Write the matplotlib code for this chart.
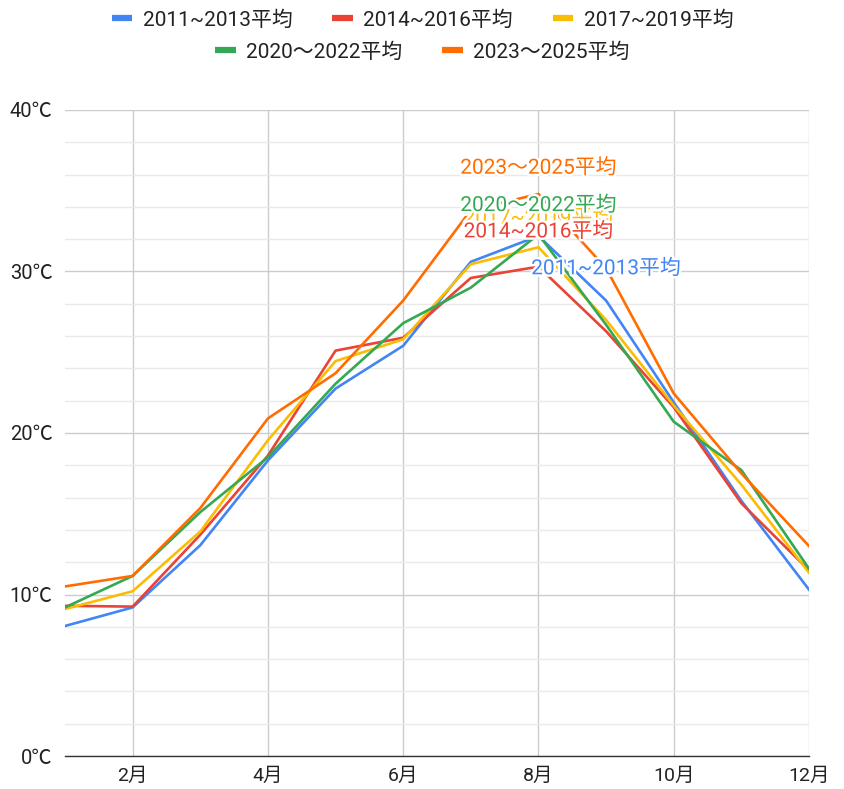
import numpy as np
import matplotlib
matplotlib.use("Agg")
import matplotlib.pyplot as plt
import matplotlib.patheffects as pe
from matplotlib.lines import Line2D

plt.rcParams['font.family'] = ['Roboto', 'Noto Sans CJK JP', 'DejaVu Sans']

# 月ごとの平均気温
months = np.arange(1, 13)
t_2011_2013 = [8.05, 9.2, 13.05, 18.3, 22.75, 25.4, 30.6, 32.2, 28.2, 21.9, 15.8, 10.3]
t_2014_2016 = [9.3, 9.25, 13.7, 18.6, 25.1, 25.9, 29.6, 30.3, 26.3, 21.6, 15.65, 11.5]
t_2017_2019 = [9.1, 10.2, 13.9, 19.55, 24.45, 25.8, 30.45, 31.5, 27.0, 21.7, 16.8, 11.35]
t_2020_2022 = [9.2, 11.15, 15.1, 18.5, 23.05, 26.8, 29.0, 32.3, 26.7, 20.7, 17.7, 11.6]
t_2023_2025 = [10.5, 11.15, 15.35, 20.9, 23.7, 28.2, 33.8, 34.8, 30.2, 22.45, 17.5, 13.0]

names = ["2011~2013平均", "2014~2016平均", "2017~2019平均", "2020～2022平均", "2023～2025平均"]
series = [t_2011_2013, t_2014_2016, t_2017_2019, t_2020_2022, t_2023_2025]
colors = ["#4285F4", "#EA4335", "#FBBC04", "#34A853", "#FF6D01"]

x_ticks = [2, 4, 6, 8, 10, 12]
x_ticklabels = ["2月", "4月", "6月", "8月", "10月", "12月"]
y_ticks = [0, 10, 20, 30, 40]
y_ticklabels = ["0℃", "10℃", "20℃", "30℃", "40℃"]

fig = plt.figure(figsize=(8.45, 7.89), dpi=100)
ax = fig.add_axes([65 / 845, 33 / 789, (809 - 65) / 845, (756 - 110) / 789])

ax.set_xlim(1, 12)
ax.set_ylim(0, 40)
ax.set_xticks(x_ticks)
ax.set_xticklabels(x_ticklabels, fontsize=14)
ax.set_yticks(y_ticks)
ax.set_yticklabels(y_ticklabels, fontsize=14.5)
ax.set_yticks(np.arange(0, 41, 2), minor=True)
ax.tick_params(axis='both', length=0, colors='#222222')
ax.tick_params(axis='y', pad=9)
ax.tick_params(axis='x', pad=8)
ax.tick_params(which='minor', length=0)

ax.grid(axis='y', which='minor', color='#e9e9e9', linewidth=1.0)
ax.grid(axis='y', which='major', color='#cccccc', linewidth=1.0)
ax.grid(axis='x', which='major', color='#cccccc', linewidth=1.0)
ax.set_axisbelow(True)
for s in ["top", "right", "left"]:
    ax.spines[s].set_visible(False)
ax.spines["bottom"].set_color("#333333")
ax.spines["bottom"].set_linewidth(1.0)

for vals, c in zip(series, colors):
    ax.plot(months, vals, color=c, linewidth=1.9, solid_joinstyle='round', zorder=3)

# 系列ラベル (点からのずれ: pixels)
label_specs = [(2, 7, 29), (1, 7, 35), (3, 7, 29), (4, 7, 26), (0, 8, 32)]
halo = [pe.withStroke(linewidth=3.5, foreground='white')]
for i, idx, dy in label_specs:
    ax.annotate(names[i], xy=(months[idx], series[i][idx]), xytext=(0, dy),
                textcoords='offset pixels', ha='center', va='center',
                color=colors[i], fontsize=15, path_effects=halo, zorder=5)

def make_handles(idx):
    return [Line2D([0], [0], color=colors[i], linewidth=4.5, solid_capstyle='butt') for i in idx]

leg1 = fig.legend(make_handles([0, 1, 2]), [names[i] for i in [0, 1, 2]],
                  loc='center', bbox_to_anchor=(0.5, 1 - 20 / 789), ncol=3, frameon=False,
                  fontsize=15, handlelength=1.0, handletextpad=0.5, columnspacing=1.9)
leg2 = fig.legend(make_handles([3, 4]), [names[i] for i in [3, 4]],
                  loc='center', bbox_to_anchor=(0.5, 1 - 52 / 789), ncol=2, frameon=False,
                  fontsize=15, handlelength=1.0, handletextpad=0.5, columnspacing=1.9)
for leg in (leg1, leg2):
    for t in leg.get_texts():
        t.set_color('#222222')

plt.savefig("out.png", dpi=100)
